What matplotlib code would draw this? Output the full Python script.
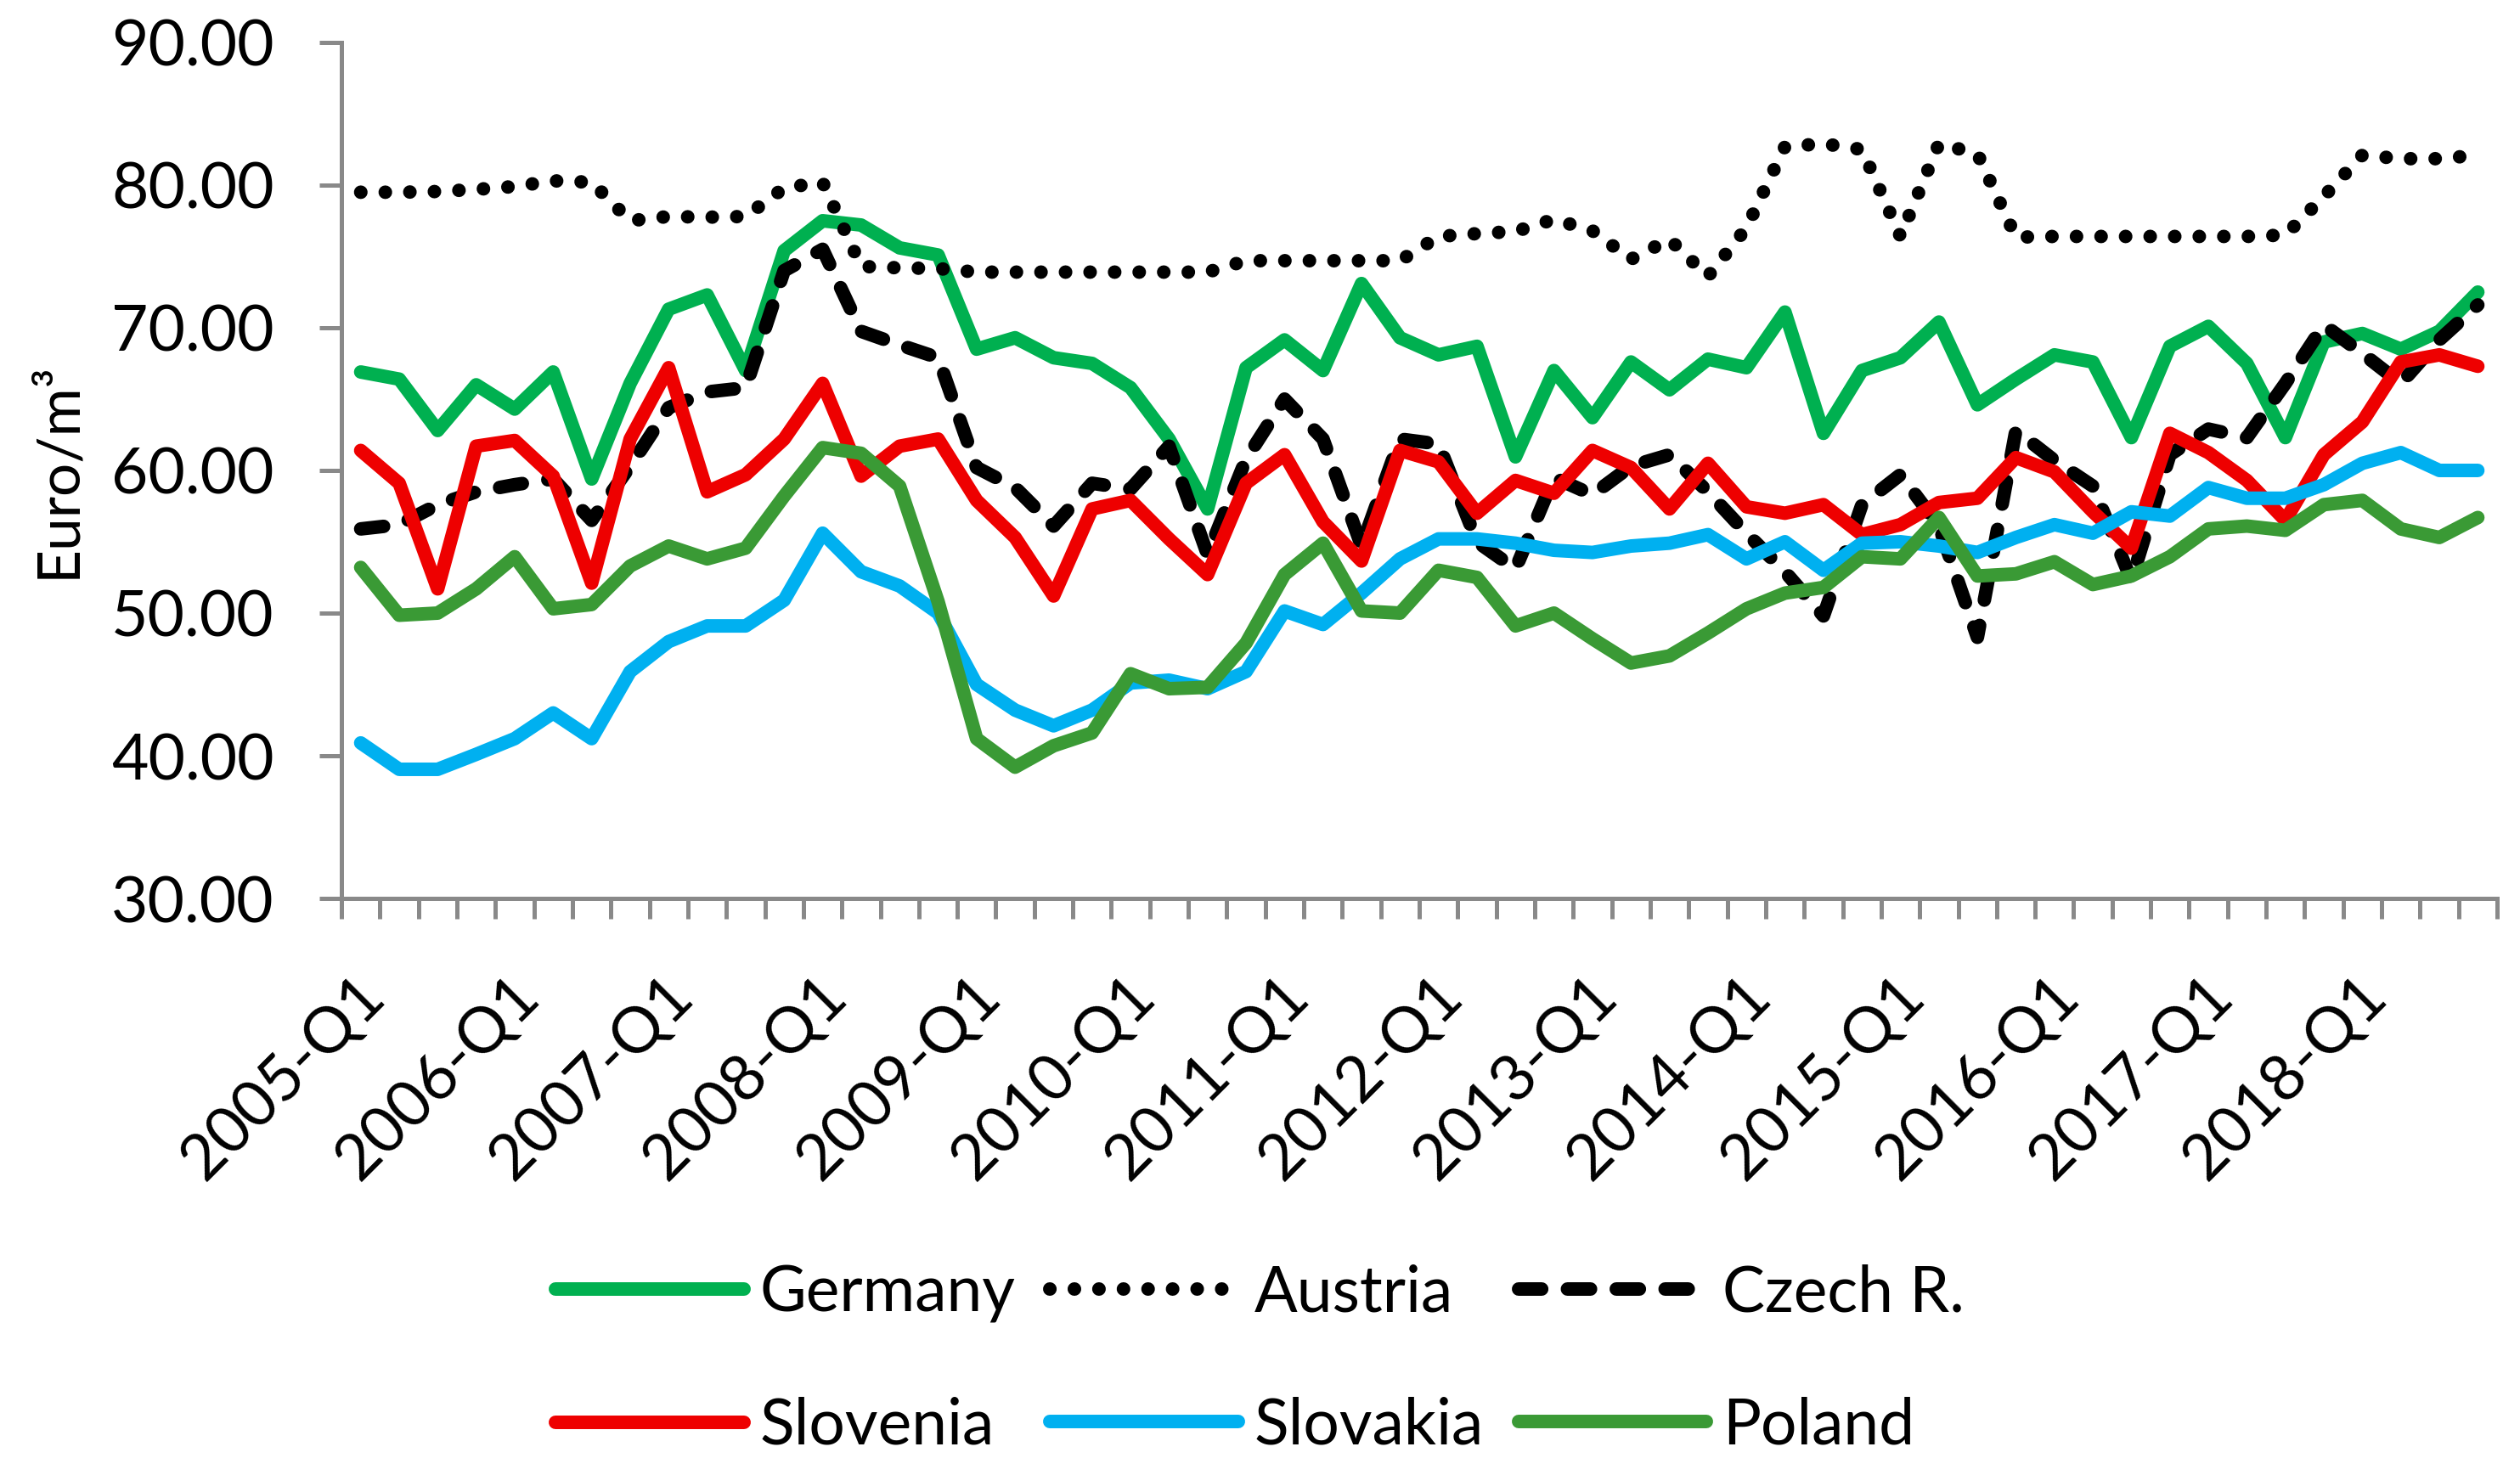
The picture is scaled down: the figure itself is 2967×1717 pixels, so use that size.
import matplotlib
matplotlib.use("Agg")
import matplotlib.pyplot as plt
from matplotlib.transforms import ScaledTranslation

years = list(range(2005, 2019))
quarters = [f"{y}-Q{q}" for y in years for q in range(1, 5)]

germany = [66.9, 66.4, 62.8, 66.0, 64.3, 66.9, 59.4, 66.1, 71.3, 72.3, 67.0, 75.4, 77.5, 77.2, 75.6,
           75.1, 68.5, 69.3, 67.9, 67.5, 65.8, 62.2, 57.3, 67.2, 69.15, 67.0, 73.1, 69.3, 68.1, 68.7,
           60.95, 67.0, 63.7, 67.6, 65.65, 67.8, 67.2, 71.1, 62.6, 67.0, 67.9, 70.4, 64.6, 66.4, 68.1,
           67.6, 62.3, 68.7, 70.1, 67.5, 62.3, 69.0, 69.6, 68.5, 69.75, 72.5]
austria = [79.5, 79.5, 79.55, 79.7, 79.9, 80.3, 80.2, 77.5, 77.8, 77.75, 77.8, 79.8, 80.2, 74.3, 74.2,
           74.15, 73.9, 73.9, 73.9, 73.9, 73.9, 73.9, 73.9, 74.7, 74.7, 74.7, 74.7, 74.7, 76.4, 76.6,
           76.75, 77.6, 76.8, 74.8, 76.2, 73.6, 77.0, 82.7, 82.9, 82.5, 76.4, 82.9, 82.2, 76.35, 76.4,
           76.4, 76.4, 76.4, 76.4, 76.4, 76.5, 79.2, 82.1, 81.85, 81.85, 82.1]
czech = [55.9, 56.2, 57.6, 58.5, 59.0, 59.4, 56.5, 60.3, 64.4, 65.5, 65.8, 74.0, 75.5, 69.75, 68.8,
         67.9, 60.2, 58.8, 56.1, 59.1, 58.7, 61.7, 54.1, 60.8, 65.0, 62.2, 54.7, 62.2, 61.85, 55.0,
         53.1, 59.5, 58.3, 60.3, 61.1, 58.5, 55.6, 52.9, 49.8, 57.6, 59.7, 56.1, 48.3, 62.8, 60.7,
         58.9, 52.3, 61.1, 62.9, 62.3, 66.1, 70.2, 68.2, 66.1, 69.15, 71.6]
slovenia = [61.4, 59.1, 51.7, 61.7, 62.1, 59.6, 52.1, 62.2, 67.2, 58.5, 59.7, 62.2, 66.1, 59.6, 61.7,
            62.2, 57.9, 55.3, 51.2, 57.3, 57.9, 55.2, 52.7, 59.1, 61.1, 56.4, 53.65, 61.4, 60.6, 57.0,
            59.3, 58.4, 61.4, 60.2, 57.3, 60.5, 57.45, 57.0, 57.6, 55.5, 56.2, 57.75, 58.05, 60.9, 59.9,
            57.1, 54.55, 62.6, 61.25, 59.3, 56.5, 61.1, 63.4, 67.6, 68.1, 67.3]
slovakia = [40.9, 39.05, 39.05, 40.1, 41.2, 43.0, 41.2, 45.9, 48.0, 49.1, 49.1, 50.9, 55.6, 52.9, 51.9,
            50.0, 45.0, 43.2, 42.1, 43.2, 45.1, 45.3, 44.7, 45.9, 50.15, 49.2, 51.4, 53.8, 55.2, 55.2,
            54.9, 54.4, 54.25, 54.7, 54.9, 55.5, 53.8, 55.0, 53.0, 54.9, 55.0, 54.7, 54.25, 55.3, 56.2,
            55.6, 57.1, 56.8, 58.8, 58.05, 58.05, 59.0, 60.5, 61.25, 60.0, 60.0]
poland = [53.2, 49.85, 50.0, 51.7, 53.95, 50.3, 50.6, 53.3, 54.7, 53.8, 54.55, 58.2, 61.6, 61.2, 58.9,
          50.8, 41.2, 39.2, 40.7, 41.6, 45.75, 44.7, 44.8, 47.9, 52.7, 54.9, 50.15, 50.0, 53.0, 52.5,
          49.1, 50.0, 48.2, 46.5, 47.0, 48.6, 50.3, 51.4, 51.8, 53.95, 53.8, 56.7, 52.6, 52.75, 53.6,
          52.0, 52.6, 53.95, 55.9, 56.1, 55.8, 57.6, 57.9, 55.9, 55.3, 56.7]

series = [
    ("Germany", germany, "#00B050", "-"),
    ("Austria", austria, "#000000", (0, (0.01, 1.8))),
    ("Czech R.", czech, "#000000", (0, (1.7, 1.9))),
    ("Slovenia", slovenia, "#EE0000", "-"),
    ("Slovakia", slovakia, "#00B0F0", "-"),
    ("Poland", poland, "#3A9A35", "-"),
]

FONT = "Lato"
plt.rcParams['font.family'] = [FONT, 'DejaVu Sans']

fig = plt.figure(figsize=(29.67, 17.17), dpi=100)
ax = fig.add_axes([0.1355, 0.3838, 0.8554, 0.5871])

x = list(range(len(quarters)))
handles = {}
for name, vals, col, ls in series:
    ln, = ax.plot(x, vals, color=col, linestyle=ls, linewidth=11.5,
                  solid_capstyle='round', dash_capstyle='round', solid_joinstyle='round',
                  label=name)
    handles[name] = ln

ax.set_xlim(-0.5, len(quarters) - 0.5)
ax.set_ylim(30, 90)
ax.set_yticks(range(30, 91, 10))
ax.set_yticklabels([f"{v:.2f}" for v in range(30, 91, 10)], fontsize=54)

gray = "#898989"
for s in ["top", "right"]:
    ax.spines[s].set_visible(False)
for s in ["left", "bottom"]:
    ax.spines[s].set_color(gray)
    ax.spines[s].set_linewidth(3.6)

ax.tick_params(axis='y', direction='out', length=19, width=3.6, color=gray, pad=38)

major_pos = list(range(0, len(quarters), 4))
ax.set_xticks(major_pos)
ax.set_xticklabels([quarters[i] for i in major_pos], fontsize=54, rotation=45,
                   ha='right', va='center', rotation_mode='anchor')
ax.set_xticks([i - 0.5 for i in range(len(quarters) + 1)], minor=True)
ax.tick_params(axis='x', which='major', length=0, pad=74)
ax.tick_params(axis='x', which='minor', direction='out', length=17, width=3.6, color=gray)
off = ScaledTranslation(17 / 100, 0, fig.dpi_scale_trans)
for lab in ax.get_xticklabels():
    lab.set_transform(lab.get_transform() + off)

ax.set_ylabel("Euro/m\u00b3", fontsize=50)
ax.yaxis.set_label_coords(-0.119, 0.5)

order = ["Germany", "Slovenia", "Austria", "Slovakia", "Czech R.", "Poland"]
fig.legend([handles[n] for n in order], order, loc='center', bbox_to_anchor=(0.500, 0.0675),
           ncol=3, frameon=False, fontsize=54, handlelength=2.95, handletextpad=0.25,
           columnspacing=0.55, labelspacing=1.16)

fig.savefig("out.png", dpi=100)
